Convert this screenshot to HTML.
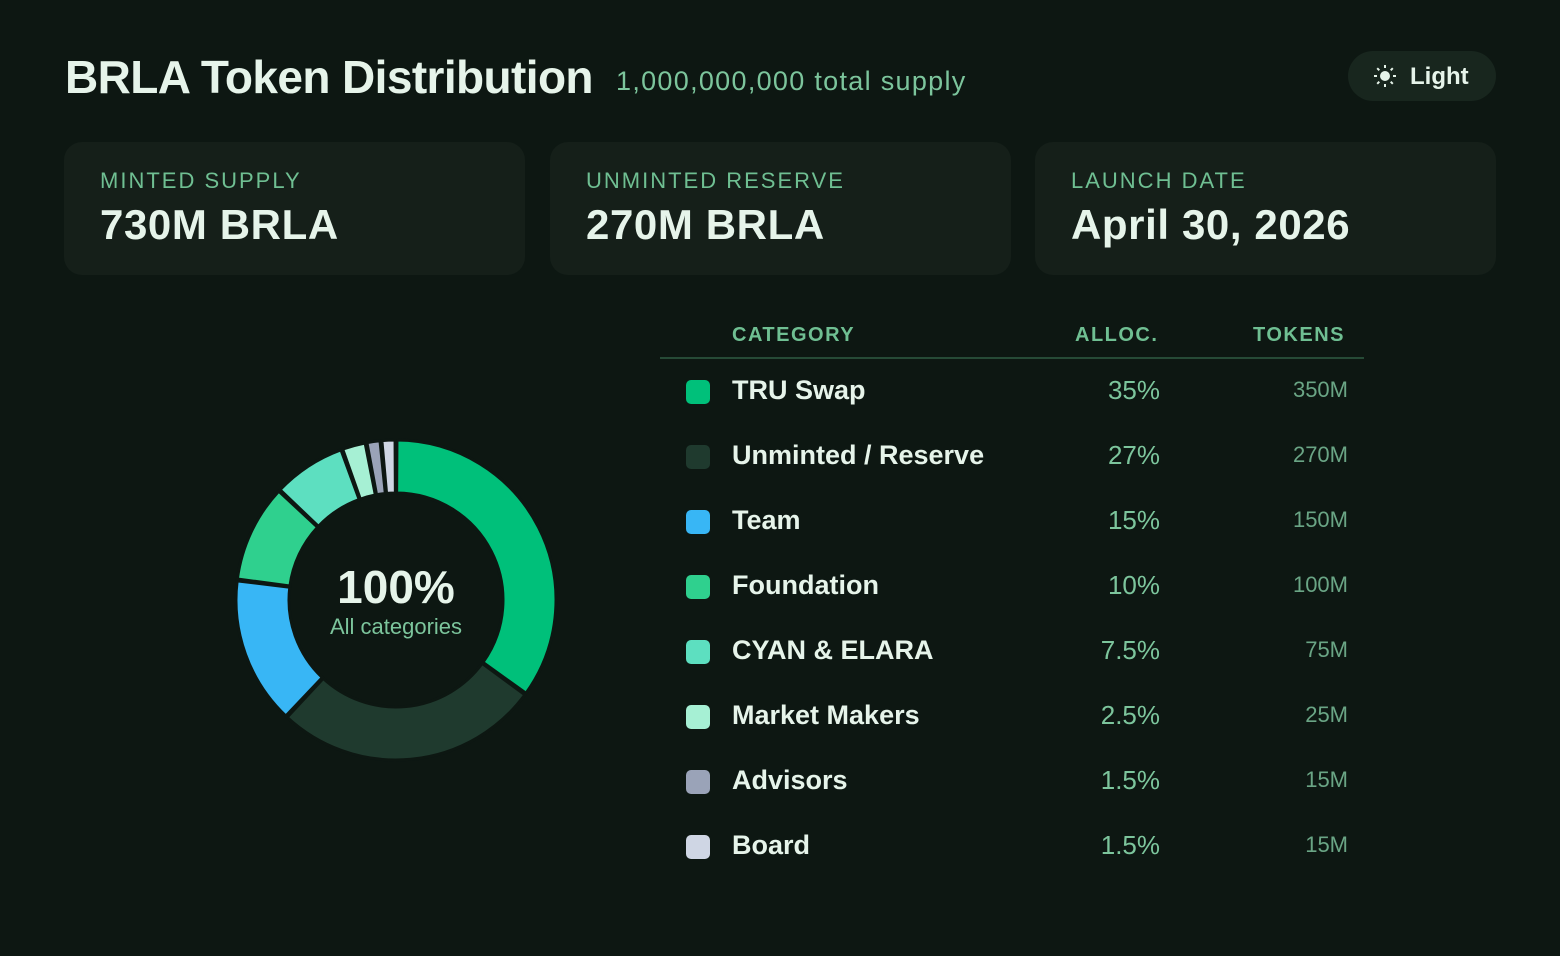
<!DOCTYPE html>
<html><head><meta charset="utf-8"><style>
*{margin:0;padding:0;box-sizing:border-box}
body{width:1560px;height:956px;background:#0d1712;font-family:"Liberation Sans",sans-serif;position:relative;overflow:hidden;color:#e6f4ea}
.abs{position:absolute}
h1{position:absolute;left:65px;top:50px;font-size:46px;font-weight:700;letter-spacing:-0.6px;color:#e6f4ea}
.sub{left:616px;top:66px;font-size:27px;letter-spacing:1.3px;color:#7cc59c}
.btn{left:1348px;top:51px;width:148px;height:50px;border-radius:25px;background:#18261e;font-size:24px;font-weight:700;color:#e6f4ea;padding:12px 0 0 62px}
.card{top:142px;width:461px;height:133px;border-radius:18px;background:#151f19}
.card .l{position:absolute;left:36px;top:26px;font-size:22px;letter-spacing:2px;color:#6fbf92}
.card .v{position:absolute;left:36px;top:59px;font-size:42px;font-weight:700;letter-spacing:0.6px;color:#e6f4ea}
.hdr{top:324px;font-size:20px;font-weight:700;letter-spacing:1.5px;color:#6fbf92}
.rule{left:660px;top:357px;width:704px;height:2px;background:#264a36}
.row{left:660px;width:704px;height:40px}
.sw{position:absolute;left:26px;top:9px;width:24px;height:24px;border-radius:5px}
.nm{position:absolute;left:72px;top:4px;font-size:27px;font-weight:700;color:#e6f4ea}
.pc{position:absolute;right:204px;top:4px;font-size:26px;color:#7cc59c}
.tk{position:absolute;right:16px;top:6px;font-size:22px;color:#6aa585}
</style></head><body>
<h1>BRLA Token Distribution</h1>
<div class="abs sub">1,000,000,000 total supply</div>
<div class="abs btn"><svg class="abs" style="left:25px;top:13px" width="24" height="24" viewBox="-12 -12 24 24"><circle r="5" fill="#e6f4ea"/><g stroke="#e6f4ea" stroke-width="2"><line x1="0" y1="-8" x2="0" y2="-11"/><line x1="0" y1="8" x2="0" y2="11"/><line x1="-8" y1="0" x2="-11" y2="0"/><line x1="8" y1="0" x2="11" y2="0"/><line x1="5.7" y1="5.7" x2="7.8" y2="7.8"/><line x1="-5.7" y1="-5.7" x2="-7.8" y2="-7.8"/><line x1="5.7" y1="-5.7" x2="7.8" y2="-7.8"/><line x1="-5.7" y1="5.7" x2="-7.8" y2="7.8"/></g></svg>Light</div>
<div class="abs card" style="left:64px"><div class="l">MINTED SUPPLY</div><div class="v">730M BRLA</div></div>
<div class="abs card" style="left:550px"><div class="l">UNMINTED RESERVE</div><div class="v">270M BRLA</div></div>
<div class="abs card" style="left:1035px"><div class="l">LAUNCH DATE</div><div class="v">April 30, 2026</div></div>
<svg class="abs" style="left:0;top:0" width="800" height="956" id="donut"></svg>
<div class="abs" style="left:296px;top:560px;width:200px;text-align:center;font-size:46px;font-weight:700;color:#e6f4ea">100%</div>
<div class="abs" style="left:296px;top:614px;width:200px;text-align:center;font-size:22px;color:#7cc59c">All categories</div>
<div class="abs hdr" style="left:732px">CATEGORY</div>
<div class="abs hdr" style="left:1075px">ALLOC.</div>
<div class="abs hdr" style="left:1253px">TOKENS</div>
<div class="abs rule"></div>
<div id="rows"></div>
<script>
const categories=["TRU Swap","Unminted / Reserve","Team","Foundation","CYAN & ELARA","Market Makers","Advisors","Board"];
const allocations=[35,27,15,10,7.5,2.5,1.5,1.5];
const allocLabels=["35%","27%","15%","10%","7.5%","2.5%","1.5%","1.5%"];
const tokenLabels=["350M","270M","150M","100M","75M","25M","15M","15M"];
const colors=["#00c07a","#1f3a2e","#38b6f5","#2fd08e","#5ddfc0","#a6f0d4","#9aa3b8","#cfd6e4"];
const ns="http://www.w3.org/2000/svg";
const svg=document.getElementById('donut');
const cx=396,cy=600,R=160,r=107;
const total=allocations.reduce((a,b)=>a+b,0);
let acc=0;
function pt(rad,a){return [cx+rad*Math.sin(a),cy-rad*Math.cos(a)];}
allocations.forEach((v,i)=>{
  const a0=acc/total*2*Math.PI+0.006, a1=(acc+v)/total*2*Math.PI-0.006; acc+=v;
  const lg=(a1-a0)>Math.PI?1:0;
  const [x0,y0]=pt(R,a0),[x1,y1]=pt(R,a1),[x2,y2]=pt(r,a1),[x3,y3]=pt(r,a0);
  const p=document.createElementNS(ns,'path');
  p.setAttribute('d',`M${x0},${y0}A${R},${R} 0 ${lg} 1 ${x1},${y1}L${x2},${y2}A${r},${r} 0 ${lg} 0 ${x3},${y3}Z`);
  p.setAttribute('fill',colors[i]);p.setAttribute('stroke','#0d1712');p.setAttribute('stroke-width','3');
  
  
  svg.appendChild(p);
});
const rows=document.getElementById('rows');
categories.forEach((c,i)=>{
  const d=document.createElement('div');d.className='abs row';d.style.top=(371+i*65)+'px';
  
  
  d.innerHTML=`<div class="sw" style="background:${colors[i]}"></div><div class="nm">${c.replace('&','&amp;')}</div><div class="pc">${allocLabels[i]}</div><div class="tk">${tokenLabels[i]}</div>`;
  rows.appendChild(d);
});
</script>
</body></html>
